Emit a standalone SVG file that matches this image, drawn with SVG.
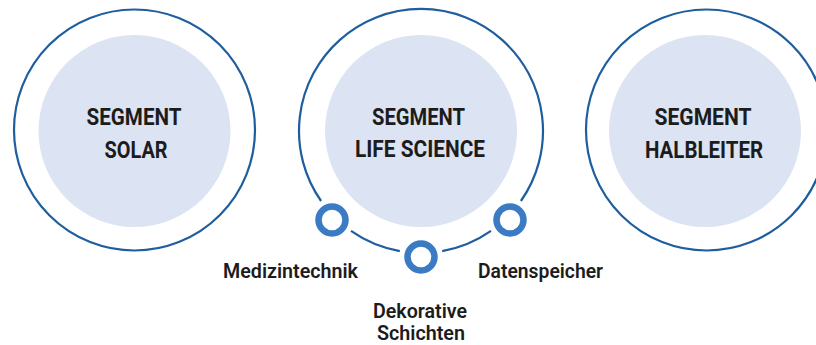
<svg xmlns="http://www.w3.org/2000/svg" width="816" height="345" viewBox="0 0 816 345">
<style>
.outer{fill:#fff;stroke:#1f5e9e;stroke-width:2.2}
.inner{fill:#dce3f2}
.title{font-family:Roboto,"Liberation Sans",sans-serif;font-weight:700;font-size:24.5px;fill:#1c1c1c;text-anchor:middle}
.label{font-family:Roboto,"Liberation Sans",sans-serif;font-weight:600;font-size:20.5px;fill:#1c1c1c;text-anchor:middle}
.ring{fill:#fff;stroke:#3a7bc4;stroke-width:6.5}
.arc{fill:none;stroke:#1f5e9e;stroke-width:2.2}
</style>
<rect width="816" height="345" fill="#fff"/>
<g id="segment-solar">
<circle class="outer" cx="134.5" cy="130" r="120.5"/>
<circle class="inner" cx="134.5" cy="131" r="96"/>
<text class="title" x="134" y="125" textLength="95" lengthAdjust="spacingAndGlyphs">SEGMENT</text>
<text class="title" x="136" y="158" textLength="63" lengthAdjust="spacingAndGlyphs">SOLAR</text>
</g>
<g id="segment-life-science">
<path class="arc" d="M321.1,201 A122,122 0 1 1 520.9,201"/>
<circle class="inner" cx="421" cy="131" r="96"/>
<text class="title" x="418.5" y="125" textLength="93" lengthAdjust="spacingAndGlyphs">SEGMENT</text>
<text class="title" x="420" y="157" textLength="130" lengthAdjust="spacingAndGlyphs">LIFE SCIENCE</text>
</g>
<g id="segment-halbleiter">
<circle class="outer" cx="706.5" cy="130" r="120.5"/>
<circle class="inner" cx="705" cy="131" r="96"/>
<text class="title" x="703" y="125" textLength="97" lengthAdjust="spacingAndGlyphs">SEGMENT</text>
<text class="title" x="704" y="158" textLength="118" lengthAdjust="spacingAndGlyphs">HALBLEITER</text>
</g>
<g id="connectors">
<path class="arc" d="M351,230.9 A122,122 0 0 0 399.8,251.1"/>
<path class="arc" d="M442.2,251.1 A122,122 0 0 0 491,230.9"/>
</g>
<g id="medizintechnik">
<circle class="ring" cx="332" cy="220" r="13.5"/>
<text class="label" x="290.5" y="278" textLength="135" lengthAdjust="spacingAndGlyphs">Medizintechnik</text>
</g>
<g id="dekorative-schichten">
<circle class="ring" cx="421" cy="257" r="13.5"/>
<text class="label" x="420" y="318" textLength="94" lengthAdjust="spacingAndGlyphs">Dekorative</text>
<text class="label" x="421" y="340" textLength="88" lengthAdjust="spacingAndGlyphs">Schichten</text>
</g>
<g id="datenspeicher">
<circle class="ring" cx="510" cy="220" r="13.5"/>
<text class="label" x="540.5" y="278" textLength="125" lengthAdjust="spacingAndGlyphs">Datenspeicher</text>
</g>
</svg>
